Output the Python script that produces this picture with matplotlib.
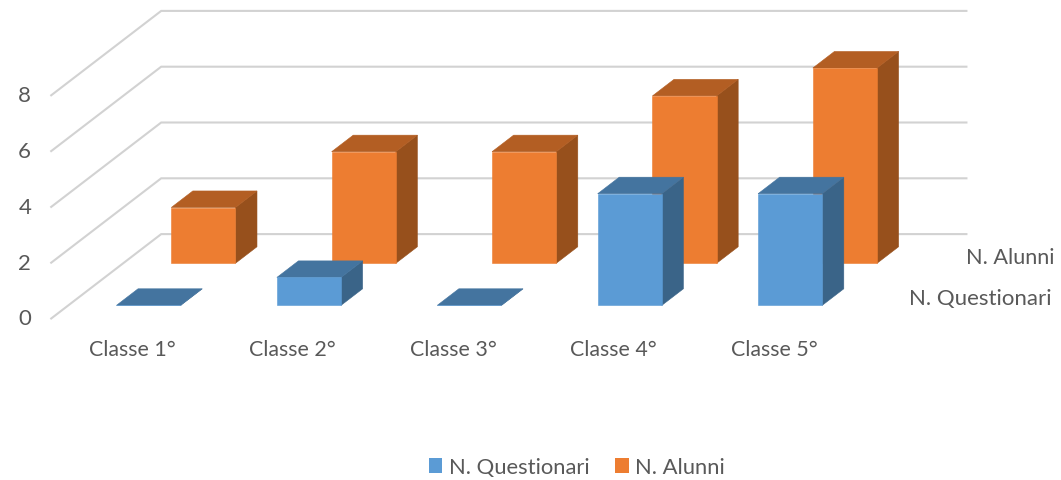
import matplotlib
matplotlib.use("Agg")
import matplotlib.pyplot as plt
from matplotlib.patches import Polygon, Patch

plt.rcParams['font.family'] = ['Lato', 'DejaVu Sans']

categories = ["Classe 1°", "Classe 2°", "Classe 3°", "Classe 4°", "Classe 5°"]
n_questionari = [0, 1, 0, 4, 4]
n_alunni = [2, 4, 4, 6, 7]
y_ticks = [0, 2, 4, 6, 8]
series_names = ["N. Questionari", "N. Alunni"]

TEXT = "#595959"
GRID = "#D2D2D2"
BLUE = ("#5B9BD5", "#44749F", "#3A6488")
ORANGE = ("#ED7D31", "#B35E23", "#97501C")
FS = 16

# oblique projection of the 3D chart box to pixel-like axes coordinates
X0, Y0 = 51.2, 319.5
CAT_W = 160.4
UNIT = 27.9
DX, DY = 110.0, -84.4
BAR_W = 0.4


def proj(cat, value, depth):
    return (X0 + cat * CAT_W + depth * DX, Y0 - value * UNIT + depth * DY)


fig = plt.figure(figsize=(10.61, 4.81), dpi=100)
ax = fig.add_axes([0, 0, 1, 1])
ax.set_xlim(0, 1061)
ax.set_ylim(481, 0)
ax.axis("off")

n_cat = len(categories)
for t in y_ticks:
    xs, ys = zip(proj(0, t, 0), proj(0, t, 1), proj(n_cat + 0.02, t, 1))
    ax.plot(xs, ys, color=GRID, lw=1.5, solid_joinstyle="miter", zorder=1)
    fx, fy = proj(0, t, 0)
    ax.text(fx - 20, fy, str(t), ha="right", va="center", color=TEXT, fontsize=FS)


def bar(i, value, d0, d1, colors, z):
    c0 = i + 0.5 - BAR_W / 2
    c1 = i + 0.5 + BAR_W / 2
    front = [proj(c0, 0, d0), proj(c1, 0, d0), proj(c1, value, d0), proj(c0, value, d0)]
    top = [proj(c0, value, d0), proj(c1, value, d0), proj(c1, value, d1), proj(c0, value, d1)]
    side = [proj(c1, 0, d0), proj(c1, 0, d1), proj(c1, value, d1), proj(c1, value, d0)]
    for pts, col in ((side, colors[2]), (top, colors[1]), (front, colors[0])):
        ax.add_patch(Polygon(pts, closed=True, facecolor=col, edgecolor=col, lw=0.4, zorder=z))


for i, v in enumerate(n_alunni):
    bar(i, v, 0.654, 0.85, ORANGE, 2)
for i, v in enumerate(n_questionari):
    bar(i, v, 0.156, 0.352, BLUE, 3)

for i, c in enumerate(categories):
    x, _ = proj(i + 0.5, 0, 0)
    ax.text(x + 1, 350, c, ha="center", va="center", color=TEXT, fontsize=15.4)

ax.text(1054, 258.5, series_names[1], ha="right", va="center", color=TEXT, fontsize=15.6)
ax.text(1052, 299.5, series_names[0], ha="right", va="center", color=TEXT, fontsize=FS)

handles = [Patch(facecolor=BLUE[0], label=series_names[0]),
           Patch(facecolor=ORANGE[0], label=series_names[1])]
ax.legend(handles=handles, loc="center", bbox_to_anchor=(577 / 1061, 1 - 468 / 481),
          ncol=2, frameon=False, fontsize=15.8, labelcolor=TEXT,
          handlelength=0.62, handleheight=0.65, handletextpad=0.3, columnspacing=1.17,
          borderpad=0, borderaxespad=0)

fig.savefig("out.png", dpi=100)
